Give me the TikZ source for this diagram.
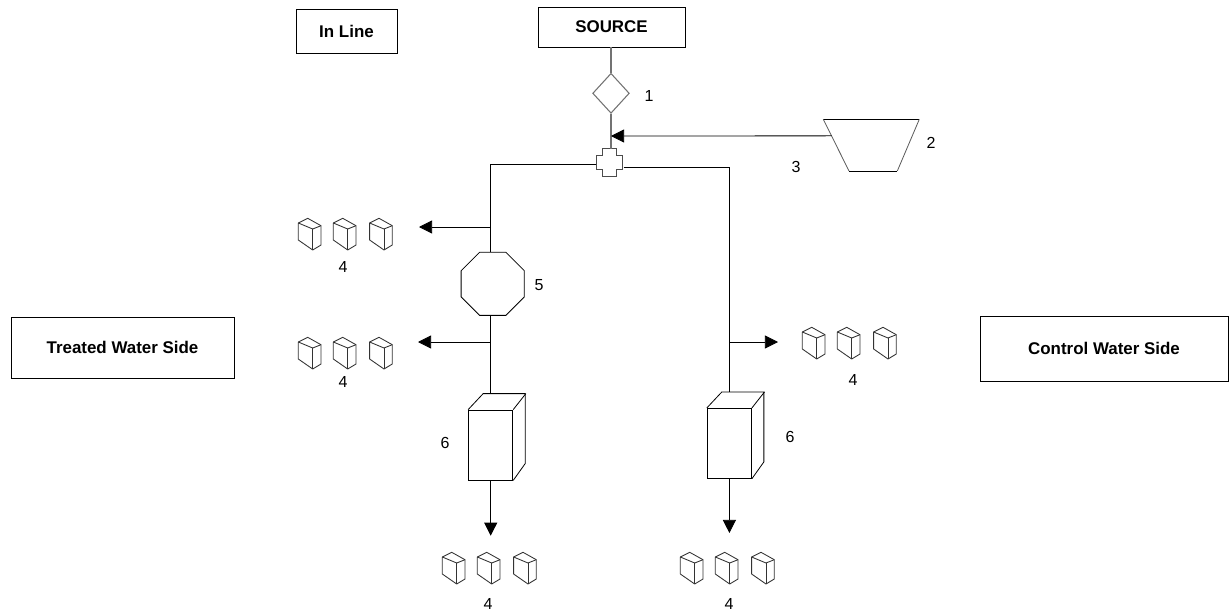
\documentclass[tikz,border=0pt]{standalone}
\usepackage{fontspec}
\setmainfont{Liberation Sans}
\usetikzlibrary{calc,arrows.meta,shapes.geometric}

\tikzset{
  titlebox/.style={draw,line width=0.6pt,inner sep=0pt,font=\bfseries\fontsize{12.7}{15}\selectfont},
  tag/.style={inner sep=0pt,font=\fontsize{12}{14}\selectfont},
  flow/.style={-{Triangle[length=9.8pt,width=9.8pt]}},
  grayline/.style={draw=black!55,line width=1.1pt},
  minicube/.pic={
    \draw[black!80,line width=0.65pt,line join=round] (-14.4,-6) -- (-5,-10.7) -- (8.3,-3.3) -- (8.3,16) -- (0,21) -- (-14.4,11) -- cycle;
    \draw[black!80,line width=0.65pt] (-14.4,-6) -- (0,0) -- (8.3,-3.3);
    \draw[black!80,line width=0.65pt] (0,0) -- (0,21);
  }
}

\begin{document}
\begin{tikzpicture}[x=0.75pt,y=-0.75pt,line width=0.6pt]
  \useasboundingbox (0,0) rectangle (1232,614);

  % boxes
  \node[titlebox,minimum width=75.75pt,minimum height=33pt] (inline) at (346.5,31) {In Line};
  \node[titlebox,minimum width=110.25pt,minimum height=30pt] (source) at (611.5,27) {SOURCE};
  \node[titlebox,minimum width=167.25pt,minimum height=45.75pt] (treated) at (122.5,347.5) {Treated Water Side};
  \node[titlebox,minimum width=186pt,minimum height=48.75pt] (control) at (1104,348.5) {Control Water Side};

  % valve, tee and octagon
  \node[diamond,grayline,line width=0.8pt,aspect=0.915,minimum width=27.5pt,minimum height=30pt,inner sep=0pt] (valve) at (611,93.3) {};
  \node[minimum width=20pt,minimum height=20.8pt,inner sep=0pt] (tee) at (610,163) {};
  \draw[grayline,draw=black!70,line width=0.85pt] (tee.north west) ++(6,0) -- ++(14.6,0) -- ++(0,7) -- ++(6,0) -- ++(0,13.7) -- ++(-6,0) -- ++(0,7) -- ++(-14.6,0) -- ++(0,-7) -- ++(-6,0) -- ++(0,-13.7) -- ++(6,0) -- cycle;
  \node[regular polygon,regular polygon sides=8,draw,minimum size=51.3pt,inner sep=0pt] (octagon) at (492.7,283.8) {};

  % hopper
  \coordinate (hopperA) at (823.3,119.3);
  \coordinate (hopperB) at (919.3,119.3);
  \coordinate (hopperC) at (897.3,171);
  \coordinate (hopperD) at (849,171);
  \draw (hopperD) -- (hopperC);
  \draw (hopperA) -- (hopperB);
  \draw[black!65] (hopperA) -- (hopperD) (hopperB) -- (hopperC);
  \coordinate (feedstart) at ($(hopperA)!0.32!(hopperD)$);
  \coordinate (feedend) at (611,136);

  % filters
  \foreach \name/\x/\y in {filterL/490.7/445,filterR/729.4/443.3}{
    \node[draw,minimum width=33.2pt,minimum height=52.5pt,inner sep=0pt] (\name) at (\x,\y) {};
    \draw (\name.north west) -- ++(15,-16) -- ++(42,0) -- ++(0,70) -- (\name.south east);
    \draw (\name.north east) -- ++(12.6,-16);
  }
  \coordinate (filterLtop) at ($(filterL.north)+(0,-16)$);
  \coordinate (filterRtop) at ($(filterR.north)+(0,-16)$);

  % cube groups
  \coordinate (groupA) at (490.7,227);
  \coordinate (groupB) at (490.7,342);
  \coordinate (groupC) at (729.4,342);
  \coordinate (groupD) at (490.7,535.7);
  \coordinate (groupE) at (729.4,533);
  \foreach \dx/\dy/\lx/\ly/\name in {0/0/343/267/a,0/119/343/382/b,504/109/853/380/c,144/334/488/604/d,382/334/729/604/e}{
    \foreach \x in {312.7,347.7,384}{
      \pic at (\x+\dx,229+\dy) {minicube};
    }
    \node[tag] (four\name) at (\lx,\ly) {4};
  }

  % numbers
  \node[tag] (one) at (649,96) {1};
  \node[tag] (two) at (931,143) {2};
  \node[tag] (three) at (796,167) {3};
  \node[tag] (five) at (539,285) {5};
  \node[tag] (sixL) at (445,443) {6};
  \node[tag] (sixR) at (790,437) {6};

  % pipes
  \draw[grayline] (source.south -| valve) -- (valve.north);
  \draw[grayline] (valve.south) -- (tee.north -| valve);
  \draw[flow] (feedstart) -- (feedend);
  \draw ($(tee.west)+(0,1)$) -| (octagon.north -| filterL);
  \draw ($(tee.east)+(0,4.3)$) -| (filterRtop);
  \draw (octagon.south -| filterL) -- (filterLtop);
  \draw[flow] (groupA) -- (419,227);
  \draw[flow] (groupB) -- (418,342);
  \draw[flow] (groupC) -- (778,342);
  \draw[flow] (filterL.south) -- (groupD);
  \draw[flow] (filterR.south) -- (groupE);
\end{tikzpicture}
\end{document}
